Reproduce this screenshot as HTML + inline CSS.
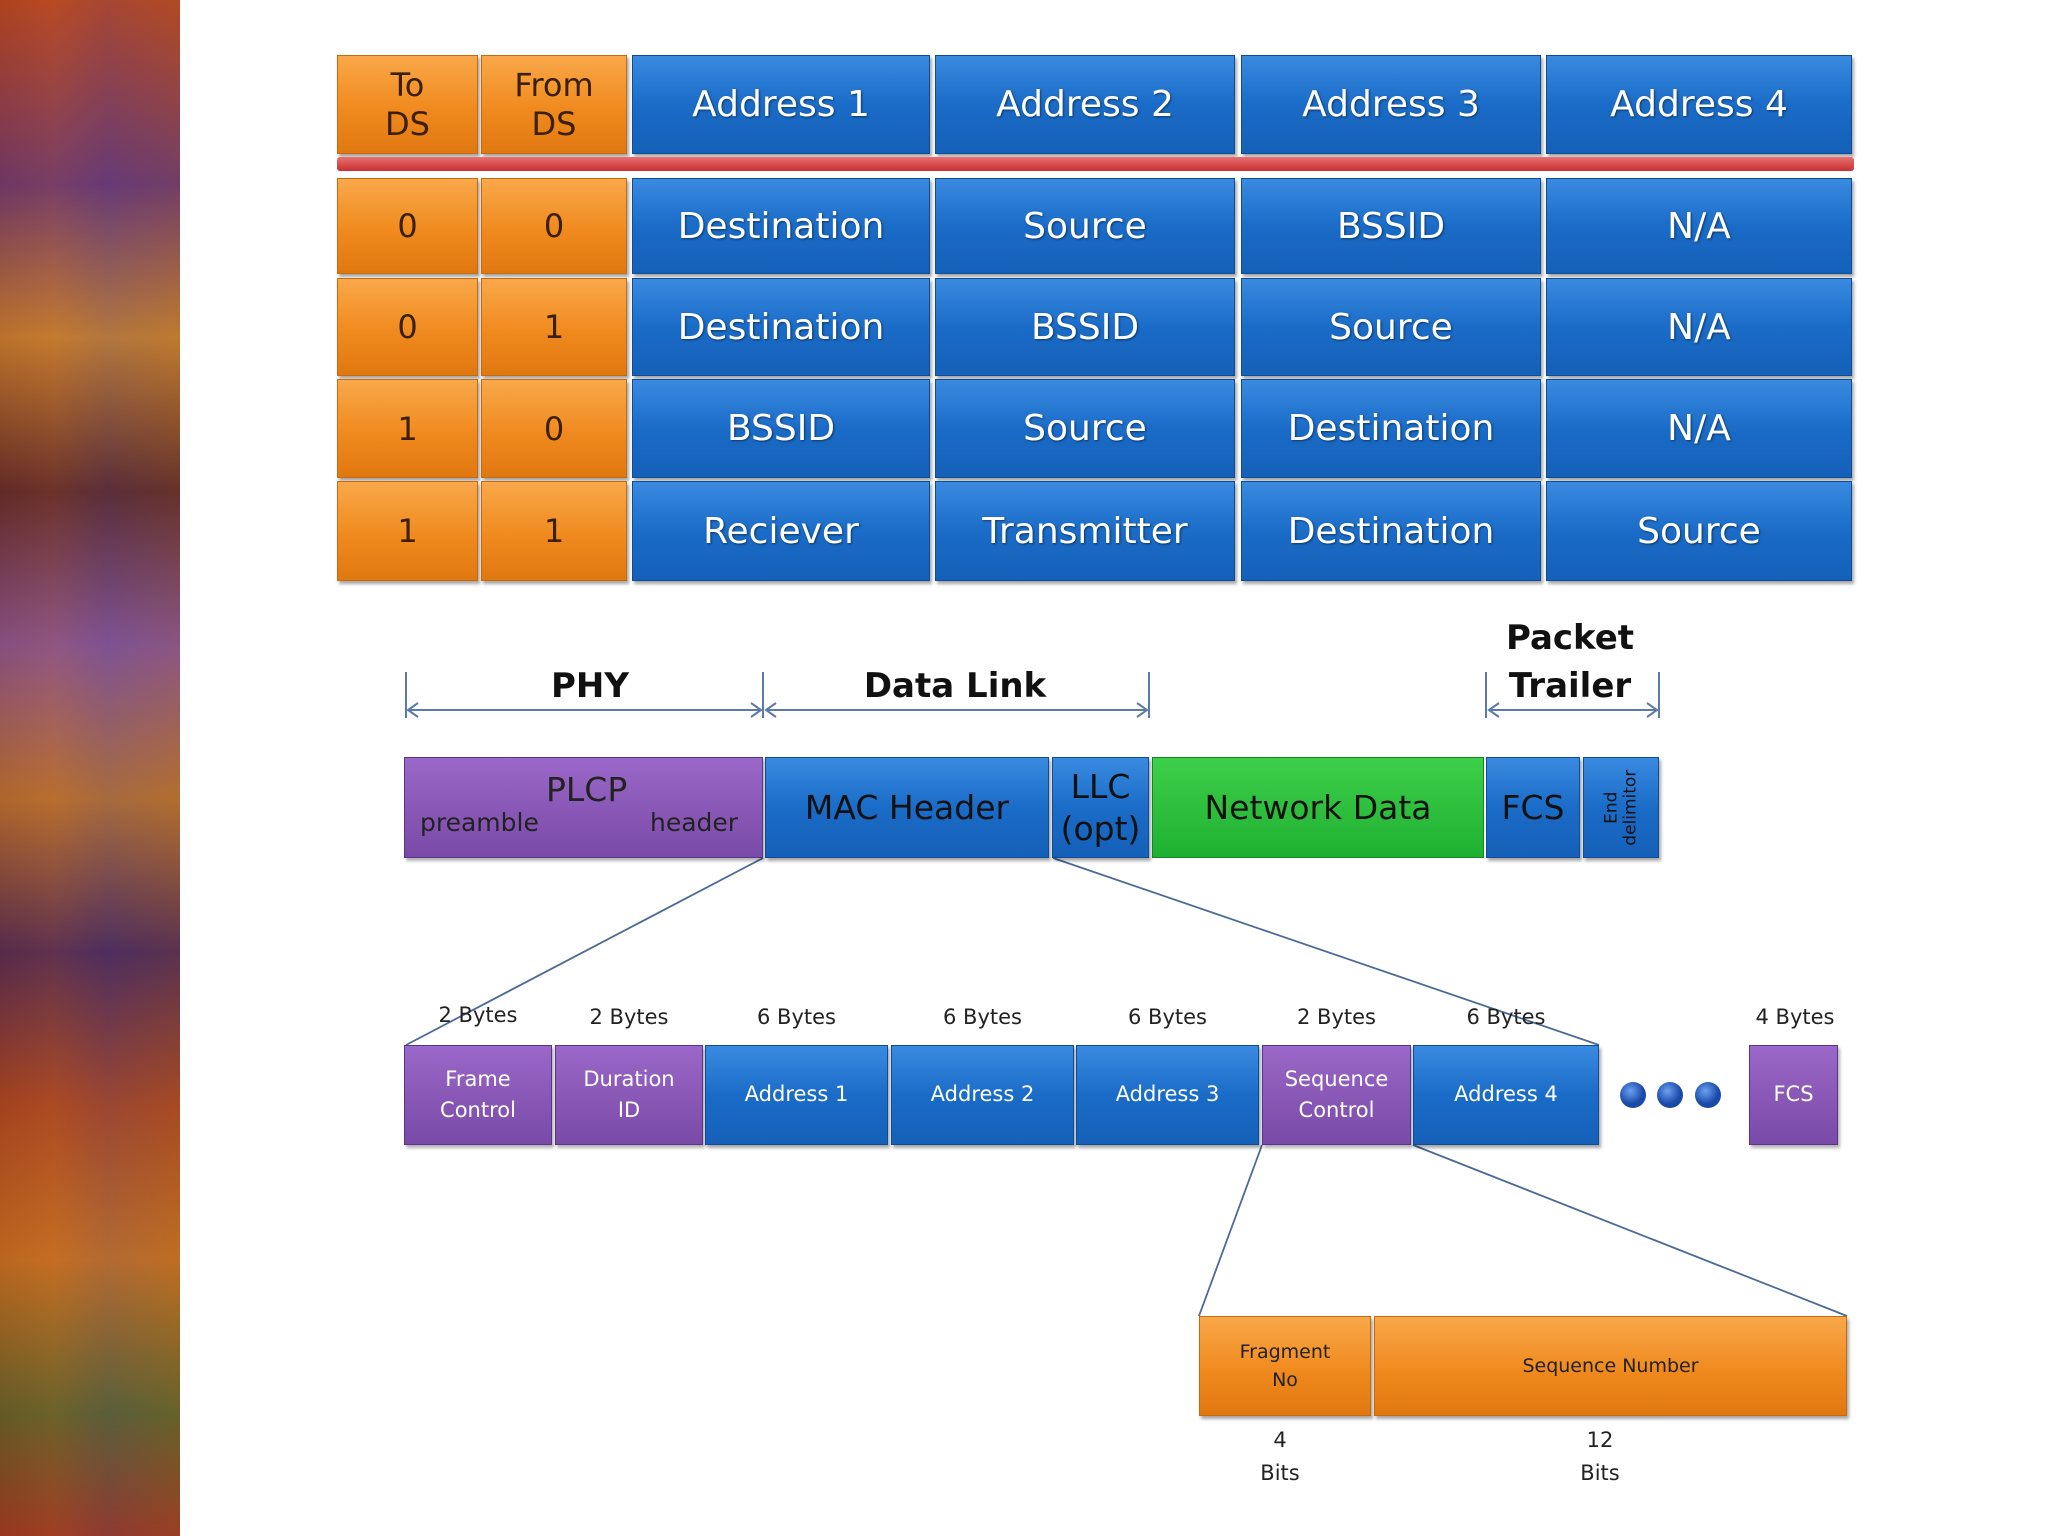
<!DOCTYPE html>
<html><head><meta charset="utf-8"><style>
*{margin:0;padding:0;box-sizing:border-box}
body{width:2048px;height:1536px;background:#fff;position:relative;overflow:hidden;font-family:"DejaVu Sans","Liberation Sans",sans-serif}
.a{position:absolute;display:flex;align-items:center;justify-content:center;text-align:center;color:#fff}
.o{background:linear-gradient(#f9a84a,#f08a1e 55%,#e07810);color:#3a2000;border:1px solid #c86a10;box-shadow:2px 3px 3px rgba(0,0,0,.35)}
.b{background:linear-gradient(#3a8ae0,#1a6cc8 50%,#1560b8);border:1px solid #0d4c96;box-shadow:2px 3px 3px rgba(0,0,0,.35);text-shadow:1px 1px 2px rgba(0,0,0,.5)}
.p{background:linear-gradient(#9a68c8,#7a4aa8);border:1px solid #5a3488;box-shadow:2px 3px 3px rgba(0,0,0,.3)}
.g{background:linear-gradient(#3ed04a,#1eb030);border:1px solid #108a20}
.t{font-size:36px}
.o.t{font-size:32px}
.m{font-size:33px}
.s{font-size:21px;line-height:1.5}
.l{position:absolute;font-size:21px;color:#222;text-align:center}
.h{position:absolute;font-size:34px;font-weight:bold;color:#111;text-align:center;line-height:1.4}
</style></head><body>
<div style="position:absolute;left:0;top:0;width:180px;height:1536px;background:
linear-gradient(90deg,#7a2a1a,#a04a2a 30%,#5a3a6a 60%,#8a4a2a);"></div>
<div style="position:absolute;left:0;top:0;width:180px;height:1536px;background:
linear-gradient(180deg,#c04a20 0%,#6a3a7a 12%,#d08a30 22%,#5a2a2a 32%,#8a5aa0 42%,#c07a30 52%,#4a2a5a 62%,#b04a20 72%,#d07a20 82%,#5a6a2a 92%,#a03a20 100%);opacity:.75"></div>

<div class="a o t" style="left:337px;top:55px;width:141px;height:99px;line-height:1.2">To<br>DS</div>
<div class="a o t" style="left:481px;top:55px;width:146px;height:99px;line-height:1.2">From<br>DS</div>
<div class="a b t" style="left:632px;top:55px;width:298px;height:99px">Address 1</div>
<div class="a b t" style="left:935px;top:55px;width:300px;height:99px">Address 2</div>
<div class="a b t" style="left:1241px;top:55px;width:300px;height:99px">Address 3</div>
<div class="a b t" style="left:1546px;top:55px;width:306px;height:99px">Address 4</div>
<div style="position:absolute;left:337px;top:157px;width:1517px;height:14px;background:linear-gradient(#e87070,#c83030);border-radius:3px"></div>

<div class="a o t" style="left:337px;top:178px;width:141px;height:96px">0</div>
<div class="a o t" style="left:481px;top:178px;width:146px;height:96px">0</div>
<div class="a b t" style="left:632px;top:178px;width:298px;height:96px">Destination</div>
<div class="a b t" style="left:935px;top:178px;width:300px;height:96px">Source</div>
<div class="a b t" style="left:1241px;top:178px;width:300px;height:96px">BSSID</div>
<div class="a b t" style="left:1546px;top:178px;width:306px;height:96px">N/A</div>

<div class="a o t" style="left:337px;top:278px;width:141px;height:98px">0</div>
<div class="a o t" style="left:481px;top:278px;width:146px;height:98px">1</div>
<div class="a b t" style="left:632px;top:278px;width:298px;height:98px">Destination</div>
<div class="a b t" style="left:935px;top:278px;width:300px;height:98px">BSSID</div>
<div class="a b t" style="left:1241px;top:278px;width:300px;height:98px">Source</div>
<div class="a b t" style="left:1546px;top:278px;width:306px;height:98px">N/A</div>

<div class="a o t" style="left:337px;top:379px;width:141px;height:99px">1</div>
<div class="a o t" style="left:481px;top:379px;width:146px;height:99px">0</div>
<div class="a b t" style="left:632px;top:379px;width:298px;height:99px">BSSID</div>
<div class="a b t" style="left:935px;top:379px;width:300px;height:99px">Source</div>
<div class="a b t" style="left:1241px;top:379px;width:300px;height:99px">Destination</div>
<div class="a b t" style="left:1546px;top:379px;width:306px;height:99px">N/A</div>

<div class="a o t" style="left:337px;top:481px;width:141px;height:100px">1</div>
<div class="a o t" style="left:481px;top:481px;width:146px;height:100px">1</div>
<div class="a b t" style="left:632px;top:481px;width:298px;height:100px">Reciever</div>
<div class="a b t" style="left:935px;top:481px;width:300px;height:100px">Transmitter</div>
<div class="a b t" style="left:1241px;top:481px;width:300px;height:100px">Destination</div>
<div class="a b t" style="left:1546px;top:481px;width:306px;height:100px">Source</div>

<svg style="position:absolute;left:0;top:0" width="2048" height="1536">
<g stroke="#5a7aa8" stroke-width="2" fill="none">
<line x1="406" y1="672" x2="406" y2="718"/><line x1="763" y1="672" x2="763" y2="718"/>
<line x1="1149" y1="672" x2="1149" y2="718"/><line x1="1486" y1="672" x2="1486" y2="718"/><line x1="1659" y1="672" x2="1659" y2="718"/>
<line x1="408" y1="710" x2="761" y2="710"/><line x1="766" y1="710" x2="1147" y2="710"/><line x1="1489" y1="710" x2="1657" y2="710"/>
<path d="M418 703 L408 710 L418 717 M751 703 L761 710 L751 717 M776 703 L766 710 L776 717 M1137 703 L1147 710 L1137 717 M1499 703 L1489 710 L1499 717 M1647 703 L1657 710 L1647 717"/>
</g>
<g stroke="#4a6a98" stroke-width="1.8">
<line x1="763" y1="858" x2="406" y2="1045"/><line x1="1053" y1="858" x2="1599" y2="1045"/>
<line x1="1262" y1="1145" x2="1199" y2="1316"/><line x1="1413" y1="1145" x2="1847" y2="1316"/>
</g>
<defs><radialGradient id="d" cx=".4" cy=".35"><stop offset="0" stop-color="#6aa0f0"/><stop offset="1" stop-color="#1a4aa8"/></radialGradient></defs>
<circle cx="1633" cy="1095" r="13" fill="url(#d)"/><circle cx="1670" cy="1095" r="13" fill="url(#d)"/><circle cx="1708" cy="1095" r="13" fill="url(#d)"/>
</svg>
<div class="h" style="left:490px;top:663px;width:200px">PHY</div>
<div class="h" style="left:830px;top:663px;width:250px">Data Link</div>
<div class="h" style="left:1470px;top:615px;width:200px">Packet<br>Trailer</div>

<div class="a p" style="left:404px;top:757px;width:359px;height:101px"></div>
<div style="position:absolute;left:546px;top:770px;font-size:33px;color:#222">PLCP</div>
<div style="position:absolute;left:420px;top:808px;font-size:25px;color:#222">preamble</div>
<div style="position:absolute;left:650px;top:808px;font-size:25px;color:#222">header</div>
<div class="a b m" style="left:765px;top:757px;width:284px;height:101px;color:#111;text-shadow:none">MAC Header</div>
<div class="a b m" style="left:1052px;top:757px;width:97px;height:101px;color:#111;text-shadow:none;line-height:1.25">LLC<br>(opt)</div>
<div class="a g m" style="left:1152px;top:757px;width:332px;height:101px;color:#111">Network Data</div>
<div class="a b m" style="left:1486px;top:757px;width:94px;height:101px;color:#111;text-shadow:none">FCS</div>
<div class="a b" style="left:1583px;top:757px;width:76px;height:101px"><div style="transform:rotate(-90deg);font-size:17px;color:#111;text-shadow:none;line-height:1.1;white-space:nowrap">End<br>delimitor</div></div>

<div class="l" style="left:404px;top:1003px;width:148px">2 Bytes</div>
<div class="l" style="left:555px;top:1005px;width:148px">2 Bytes</div>
<div class="l" style="left:705px;top:1005px;width:183px">6 Bytes</div>
<div class="l" style="left:891px;top:1005px;width:183px">6 Bytes</div>
<div class="l" style="left:1076px;top:1005px;width:183px">6 Bytes</div>
<div class="l" style="left:1262px;top:1005px;width:149px">2 Bytes</div>
<div class="l" style="left:1413px;top:1005px;width:186px">6 Bytes</div>
<div class="l" style="left:1740px;top:1005px;width:110px">4 Bytes</div>

<div class="a p s" style="left:404px;top:1045px;width:148px;height:100px">Frame<br>Control</div>
<div class="a p s" style="left:555px;top:1045px;width:148px;height:100px">Duration<br>ID</div>
<div class="a b s" style="left:705px;top:1045px;width:183px;height:100px;text-shadow:none">Address 1</div>
<div class="a b s" style="left:891px;top:1045px;width:183px;height:100px;text-shadow:none">Address 2</div>
<div class="a b s" style="left:1076px;top:1045px;width:183px;height:100px;text-shadow:none">Address 3</div>
<div class="a p s" style="left:1262px;top:1045px;width:149px;height:100px">Sequence<br>Control</div>
<div class="a b s" style="left:1413px;top:1045px;width:186px;height:100px;text-shadow:none">Address 4</div>
<div class="a p s" style="left:1749px;top:1045px;width:89px;height:100px">FCS</div>

<div class="a o s" style="left:1199px;top:1316px;width:172px;height:100px;color:#222;font-size:19px">Fragment<br>No</div>
<div class="a o s" style="left:1374px;top:1316px;width:473px;height:100px;color:#222;font-size:19px">Sequence Number</div>
<div class="l" style="left:1230px;top:1424px;width:100px;line-height:1.55">4<br>Bits</div>
<div class="l" style="left:1550px;top:1424px;width:100px;line-height:1.55">12<br>Bits</div>
</body></html>
